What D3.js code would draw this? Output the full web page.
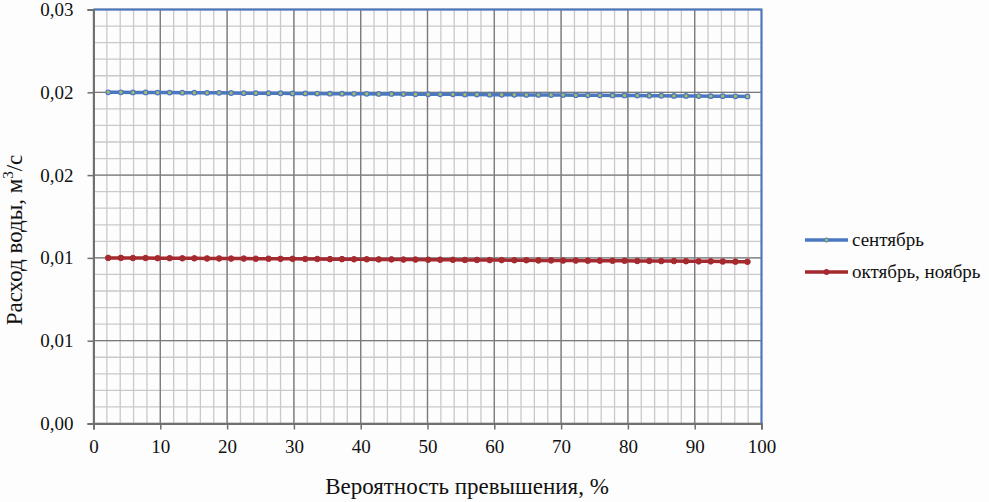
<!DOCTYPE html>
<html><head><meta charset="utf-8">
<script src="https://cdn.jsdelivr.net/npm/d3@7"></script>
<style>body{margin:0;background:#fdfdfd}svg{display:block}
svg text{font-family:"Liberation Serif","Times New Roman",Times,"DejaVu Serif",serif !important;}
</style>
</head><body>
<svg id="c" width="989" height="502"></svg>
<script>
const probability = [2.2,4.1,5.9,7.8,9.6,11.4,13.3,15.1,17.0,18.8,20.6,22.5,24.3,26.2,28.0,29.8,31.7,33.5,35.4,37.2,39.0,40.9,42.7,44.6,46.4,48.2,50.1,51.9,53.8,55.6,57.4,59.3,61.1,63.0,64.8,66.6,68.5,70.3,72.2,74.0,75.8,77.7,79.5,81.4,83.2,85.0,86.9,88.7,90.6,92.4,94.2,96.1,97.9];
const september = [0.02400,0.02400,0.02399,0.02399,0.02398,0.02398,0.02397,0.02397,0.02396,0.02396,
0.02395,0.02394,0.02394,0.02393,0.02393,0.02392,0.02392,0.02391,0.02390,0.02390,
0.02389,0.02389,0.02388,0.02388,0.02387,0.02386,0.02386,0.02385,0.02385,0.02384,
0.02384,0.02383,0.02382,0.02382,0.02381,0.02381,0.02380,0.02380,0.02379,0.02378,
0.02378,0.02377,0.02377,0.02376,0.02375,0.02375,0.02374,0.02374,0.02373,0.02372,
0.02372,0.02371,0.02370];
const octNov = [0.01200,0.01200,0.01199,0.01199,0.01198,0.01198,0.01197,0.01197,0.01196,0.01196,
0.01195,0.01195,0.01194,0.01194,0.01193,0.01193,0.01192,0.01192,0.01191,0.01191,
0.01190,0.01190,0.01189,0.01189,0.01188,0.01188,0.01187,0.01187,0.01186,0.01185,
0.01185,0.01184,0.01184,0.01183,0.01183,0.01182,0.01182,0.01181,0.01181,0.01180,
0.01180,0.01179,0.01179,0.01178,0.01178,0.01177,0.01177,0.01176,0.01175,0.01175,
0.01174,0.01173,0.01172];
const seriesNames = ["сентябрь","октябрь, ноябрь"];
const xTicks = [0,10,20,30,40,50,60,70,80,90,100];
const yTicks = [0,0.006,0.012,0.018,0.024,0.03];
const yTickLabels = ["0,00","0,01","0,01","0,02","0,02","0,03"];
const xTitle = "Вероятность превышения, %";

const svg = d3.select("#c");
const L=93.5, R=761.5, T=9.5, B=423.5;
const x = d3.scaleLinear().domain([0,100]).range([L,R]);
const y = d3.scaleLinear().domain([0,0.03]).range([B,T]);

const g = svg.append("g");
g.selectAll(".vm").data(d3.range(0,101,2)).enter().append("line")
 .attr("x1",d=>x(d)).attr("x2",d=>x(d)).attr("y1",T).attr("y2",B)
 .attr("stroke","#c9c9cc").attr("stroke-width",1.3);
g.selectAll(".hm").data(d3.range(0,26).map(i=>i*0.0012)).enter().append("line")
 .attr("y1",d=>y(d)).attr("y2",d=>y(d)).attr("x1",L).attr("x2",R)
 .attr("stroke","#c9c9cc").attr("stroke-width",1.3);
g.selectAll(".vM").data(xTicks).enter().append("line")
 .attr("x1",d=>x(d)).attr("x2",d=>x(d)).attr("y1",T).attr("y2",B)
 .attr("stroke","#7a7a7a").attr("stroke-width",1.3);
g.selectAll(".hM").data(yTicks).enter().append("line")
 .attr("y1",d=>y(d)).attr("y2",d=>y(d)).attr("x1",L).attr("x2",R)
 .attr("stroke","#7a7a7a").attr("stroke-width",1.3);
svg.append("path").attr("d",`M${L},${T}H${R}V${B}`).attr("fill","none")
 .attr("stroke","#4a78c0").attr("stroke-width",2);

const xAxis = svg.append("g").attr("transform",`translate(0,${B})`)
 .call(d3.axisBottom(x).tickValues(xTicks).tickSize(6).tickPadding(10));
const yAxis = svg.append("g").attr("transform",`translate(${L},0)`)
 .call(d3.axisLeft(y).tickValues(yTicks).tickSize(6).tickPadding(14).tickFormat((d,i)=>yTickLabels[i]));
[xAxis,yAxis].forEach(a=>{
  a.attr("font-family",null);
  a.select(".domain").attr("stroke","#707070").attr("stroke-width",2);
  a.selectAll(".tick line").attr("stroke","#707070").attr("stroke-width",1.5);
  a.selectAll("text").attr("font-size",19).attr("fill","#111");
});

const colors = ["#4a78c0","#a52a2f"];
const datasets = [september, octNov];
datasets.forEach((vals,k)=>{
  const pts = probability.map((p,i)=>[p,vals[i]]);
  svg.append("path").datum(pts)
   .attr("d",d3.line().x(d=>x(d[0])).y(d=>y(d[1])))
   .attr("fill","none").attr("stroke",colors[k]).attr("stroke-width",3.5);
  svg.append("g").selectAll("circle").data(pts).enter().append("circle")
   .attr("cx",d=>x(d[0])).attr("cy",d=>y(d[1])).attr("r",k===0?2.3:2.8)
   .attr("fill",k===0?"#a9b86a":colors[k]).attr("stroke",colors[k]).attr("stroke-width",k===0?1.2:1);
});

const leg = svg.append("g");
seriesNames.forEach((n,k)=>{
  const ly = 240 + k*32;
  leg.append("line").attr("x1",805).attr("x2",848).attr("y1",ly).attr("y2",ly)
   .attr("stroke",colors[k]).attr("stroke-width",3.5);
  leg.append("circle").attr("cx",826.5).attr("cy",ly).attr("r",k===0?2:2.6)
   .attr("fill",k===0?"#a9b86a":colors[k]).attr("stroke",colors[k]).attr("stroke-width",1);
  leg.append("text").attr("x",852).attr("y",ly+6).text(n)
   .attr("font-size",19).attr("fill","#111");
});

svg.append("text").attr("x",467).attr("y",494).attr("text-anchor","middle")
 .attr("font-size",23).attr("fill","#111").text(xTitle);
const yt = svg.append("text").attr("transform","translate(22,240) rotate(-90)")
 .attr("text-anchor","middle").attr("font-size",23).attr("fill","#111");
yt.append("tspan").text("Расход воды, м");
yt.append("tspan").attr("font-size",15).attr("dy",-9).text("3");
yt.append("tspan").attr("dy",9).text("/с");
</script>
</body></html>
